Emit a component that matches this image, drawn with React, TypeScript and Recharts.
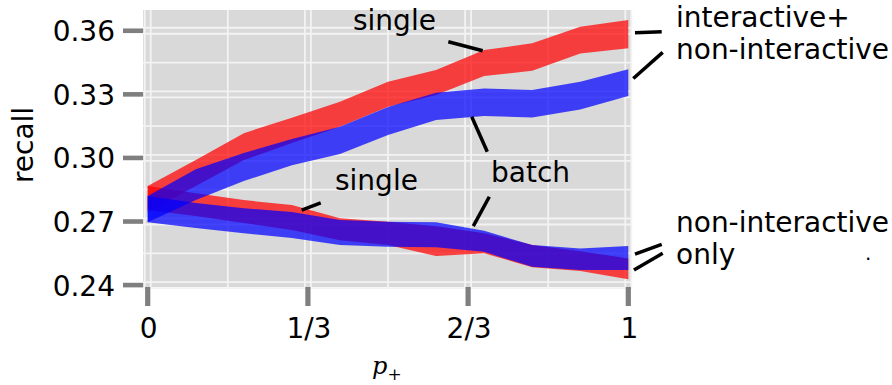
import React from 'react';
import { ComposedChart, Area, XAxis, YAxis, CartesianGrid, ReferenceLine } from 'recharts';

// share of interactive users, p+
const pPlus = [0, 0.1, 0.2, 0.3, 0.4, 0.5, 0.6, 0.7, 0.8, 0.9, 1];

// interactive + non-interactive pool: recall band (lower / upper)
const singleMixLo = [0.2745, 0.2867, 0.299, 0.307, 0.3147, 0.3241, 0.3297, 0.3386, 0.3411, 0.3493, 0.3517];
const singleMixHi = [0.2867, 0.299, 0.3117, 0.319, 0.3265, 0.3359, 0.3415, 0.3509, 0.3541, 0.3619, 0.3651];
const batchMixLo = [0.2697, 0.2801, 0.2891, 0.2966, 0.3018, 0.3108, 0.3179, 0.3198, 0.3191, 0.3229, 0.3292];
const batchMixHi = [0.282, 0.2947, 0.3023, 0.3089, 0.3147, 0.324, 0.3307, 0.3328, 0.332, 0.3359, 0.3418];

// non-interactive only pool: recall band (lower / upper)
const singleNonLo = [0.2754, 0.2726, 0.2693, 0.266, 0.2612, 0.2589, 0.2537, 0.255, 0.2484, 0.2467, 0.2427];
const singleNonHi = [0.2867, 0.2833, 0.2801, 0.2778, 0.2715, 0.2699, 0.2678, 0.2645, 0.2589, 0.256, 0.2526];
const batchNonLo = [0.2697, 0.2669, 0.2645, 0.2622, 0.2589, 0.2581, 0.2579, 0.2557, 0.2486, 0.2471, 0.2471];
const batchNonHi = [0.282, 0.2787, 0.2763, 0.2745, 0.2707, 0.2699, 0.2696, 0.2656, 0.2589, 0.2573, 0.2584];

// axis ticks
const yTicks = [0.24, 0.27, 0.3, 0.33, 0.36];
const yMinor = [0.255, 0.285, 0.315, 0.345];
const xTicks = [0, 1 / 3, 2 / 3, 1];
const xTickLabels = ['0', '1/3', '2/3', '1'];
const xMinor = [1 / 6, 1 / 2, 5 / 6];

// leader lines from labels to bands (data coordinates)
const leaders = [
  { x1: 0.6255, y1: 0.3548, x2: 0.697, y2: 0.3506 },
  { x1: 0.6742, y1: 0.3194, x2: 0.7066, y2: 0.3029 },
  { x1: 0.7108, y1: 0.2817, x2: 0.6775, y2: 0.2678 },
  { x1: 0.3204, y1: 0.2754, x2: 0.36, y2: 0.2788 },
  { x1: 1.0139, y1: 0.3591, x2: 1.0695, y2: 0.3595 },
  { x1: 1.0104, y1: 0.3375, x2: 1.0716, y2: 0.3498 },
  { x1: 1.0139, y1: 0.2546, x2: 1.0695, y2: 0.2592 },
  { x1: 1.0118, y1: 0.2471, x2: 1.0716, y2: 0.255 },
];

const W = 892;
const H = 385;
const FONT = '"DejaVu Sans", sans-serif';
const RED = '#ff0000';
const BLUE = '#0000ff';
const BAND_OPACITY = 0.72;
const GRID = '#f3f3f3';

const data = pPlus.map((p, i) => ({
  p,
  singleMix: [singleMixLo[i], singleMixHi[i]],
  batchMix: [batchMixLo[i], batchMixHi[i]],
  singleNon: [singleNonLo[i], singleNonHi[i]],
  batchNon: [batchNonLo[i], batchNonHi[i]],
}));

const doubleH = (props: any) => (
  <g key={props.key ?? `h-${props.y1}`}>
    <line x1={props.x1} x2={props.x2} y1={props.y1 - 3} y2={props.y2 - 3} stroke={GRID} strokeWidth={1.8} />
    <line x1={props.x1} x2={props.x2} y1={props.y1 + 3} y2={props.y2 + 3} stroke={GRID} strokeWidth={1.8} />
  </g>
);

const doubleV = (props: any) => (
  <g key={props.key ?? `v-${props.x1}`}>
    <line x1={props.x1 - 3} x2={props.x2 - 3} y1={props.y1} y2={props.y2} stroke={GRID} strokeWidth={1.8} />
    <line x1={props.x1 + 3} x2={props.x2 + 3} y1={props.y1} y2={props.y2} stroke={GRID} strokeWidth={1.8} />
  </g>
);

const YTick = (props: any) => {
  const { x, y, payload } = props;
  return (
    <g>
      <rect x={x - 20} y={y - 2.3} width={20} height={4.6} fill="#7f7f7f" />
      <text x={x - 28} y={y + 10.5} textAnchor="end" fontFamily={FONT} fontSize={28} fill="#000">
        {Number(payload.value).toFixed(2)}
      </text>
    </g>
  );
};

const XTick = (props: any) => {
  const { x, y, payload, index } = props;
  return (
    <g>
      <rect x={x - 2.6} y={y} width={5.2} height={19} fill="#7f7f7f" />
      <text x={x + 1} y={y + 51} textAnchor="middle" fontFamily={FONT} fontSize={28} fill="#000">
        {xTickLabels[index] ?? String(payload.value)}
      </text>
    </g>
  );
};

export default function App() {
  return (
    <div style={{ position: 'absolute', left: 0, top: 0, width: W, height: H, background: '#fff' }}>
      <ComposedChart width={W} height={H} data={data} margin={{ top: 10, right: 260, bottom: 0, left: 0 }}>
        <CartesianGrid
          fill="#d9d9d9"
          stroke={GRID}
          strokeWidth={1.8}
          horizontalValues={yMinor}
          verticalValues={xMinor}
        />
        <CartesianGrid
          fill="none"
          horizontalValues={yTicks}
          verticalValues={xTicks}
          horizontal={doubleH}
          vertical={doubleV}
        />
        <XAxis
          dataKey="p"
          type="number"
          domain={[-0.0098, 1.0077]}
          ticks={xTicks}
          allowDataOverflow
          axisLine={false}
          tickLine={false}
          tickSize={0}
          tickMargin={0}
          height={98}
          tick={<XTick />}
          interval={0}
        />
        <YAxis
          type="number"
          domain={[0.2391, 0.3698]}
          ticks={yTicks}
          allowDataOverflow
          axisLine={false}
          tickLine={false}
          tickSize={0}
          tickMargin={0}
          width={143}
          tick={<YTick />}
          interval={0}
        />
        <Area dataKey="singleMix" type="linear" stroke="none" fill={RED} fillOpacity={BAND_OPACITY} isAnimationActive={false} />
        <Area dataKey="singleNon" type="linear" stroke="none" fill={RED} fillOpacity={BAND_OPACITY} isAnimationActive={false} />
        <Area dataKey="batchMix" type="linear" stroke="none" fill={BLUE} fillOpacity={BAND_OPACITY} isAnimationActive={false} />
        <Area dataKey="batchNon" type="linear" stroke="none" fill={BLUE} fillOpacity={BAND_OPACITY} isAnimationActive={false} />
        {leaders.map((l, i) => (
          <ReferenceLine
            key={i}
            segment={[{ x: l.x1, y: l.y1 }, { x: l.x2, y: l.y2 }]}
            stroke="#000"
            strokeWidth={3.5}
            ifOverflow="visible"
          />
        ))}
      </ComposedChart>
      <svg
        width={W}
        height={H}
        style={{ position: 'absolute', left: 0, top: 0, pointerEvents: 'none' }}
        fontFamily={FONT}
        fontSize={28}
      >
        <text transform="translate(33,145) rotate(-90)" textAnchor="middle">recall</text>
        <text x={372} y={374} fontFamily='"DejaVu Serif", serif' fontStyle="italic" fontSize={24}>
          p<tspan dy={6} fontSize={17} fontStyle="normal">+</tspan>
        </text>
        <text x={353} y={30}>single</text>
        <text x={491} y={181.5}>batch</text>
        <text x={335} y={190}>single</text>
        <text x={676} y={26.5}>interactive+</text>
        <text x={676} y={59}>non-interactive</text>
        <text x={676} y={231.7}>non-interactive</text>
        <text x={676} y={263.5}>only</text>
        <text x={865} y={260} fontSize={20}>.</text>
      </svg>
    </div>
  );
}
